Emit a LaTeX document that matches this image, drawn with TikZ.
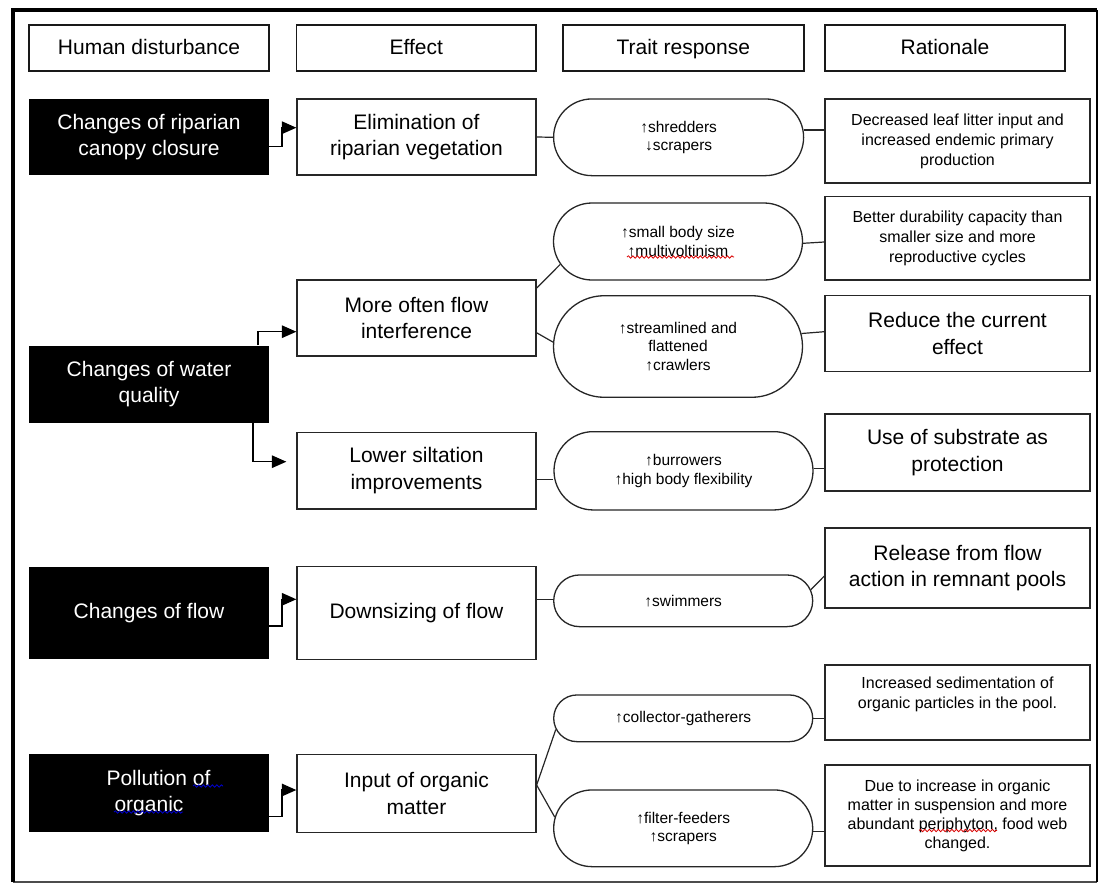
\documentclass[tikz,border=0pt]{standalone}
\usepackage{fontspec}
\setmainfont{Liberation Sans}
\usetikzlibrary{arrows.meta,calc,shapes.misc,decorations.pathmorphing}
\tikzset{
  bigfont/.style={font=\fontsize{21}{26.5}\selectfont},
  hdr/.style={draw=black!90, line width=1.8pt, fill=white, bigfont, text height=15.5pt, text depth=2pt, align=center, inner sep=0pt},
  dist/.style={fill=black, text=white, bigfont, align=center, inner sep=0pt},
  eff/.style={draw=black!85, line width=1.3pt, fill=white, bigfont, align=center, inner sep=0pt},
  trait/.style={rounded rectangle, draw=black!85, line width=1.3pt, fill=white, align=center, inner sep=0pt,
                font=\fontsize{15.5}{18.5}\selectfont},
  rat/.style={draw=black!85, line width=1.3pt, fill=white, align=center, inner sep=0pt,
              font=\fontsize{16}{20}\selectfont},
  ratbig/.style={rat, bigfont},
  link/.style={line width=1.2pt, draw=black!85},
  flag/.style={line width=1.4pt, draw=black, -{Triangle[length=14.5pt,width=12.5pt]}},
  squig/.style={line width=0.8pt, decorate, decoration={snake, segment length=4.5pt, amplitude=1.2pt}},
}
\begin{document}
\begin{tikzpicture}[x=1pt,y=-1pt]
\useasboundingbox (0,0) rectangle (1100,883);
\fill[white] (0,0) rectangle (1100,883);

% outer frame
\draw[line width=2pt, black!70] (13,881.5) -- (1097,881.5);
\draw[line width=2.6pt, black] (1097,10) -- (1097,882);
\draw[line width=3.6pt, black] (13,882) -- (13,10) -- (1097,10);

% headers
\node[hdr, minimum width=240, minimum height=46] (hHD) at (149,48) {Human disturbance};
\node[hdr, minimum width=239.5, minimum height=46] (hEf) at (416.3,48) {Effect};
\node[hdr, minimum width=240.6, minimum height=46] (hTr) at (683.3,48) {Trait response};
\node[hdr, minimum width=240, minimum height=46] (hRa) at (945,48) {Rationale};

% human disturbance
\node[dist, minimum width=240, minimum height=76] (d1) at (149,137) {Changes of riparian\\canopy closure};
\node[dist, minimum width=240, minimum height=77.3] (d2) at (149,384.3) {Changes of water\\quality};
\node[dist, minimum width=240, minimum height=92.6] (d3) at (149,613) {Changes of flow};
\node[dist, minimum width=240, minimum height=78] (d4) at (149,793.3) {\hspace*{19pt}Pollution of\\organic};

% effects
\node[eff, minimum width=239, minimum height=76] (e1) at (416.5,137) {Elimination of\\riparian vegetation};
\node[eff, minimum width=239, minimum height=76] (e2) at (416.5,318) {More often flow\\interference};
\node[eff, minimum width=239, minimum height=76.3] (e3) at (416.5,470.8) {Lower siltation\\improvements};
\node[eff, minimum width=239, minimum height=92.6] (e4) at (416.5,613) {Downsizing of flow};
\node[eff, minimum width=239, minimum height=78] (e5) at (416.5,793.3) {Input of organic\\matter};

% trait responses
\node[trait, minimum width=250, minimum height=76.7] (t1) at (678.6,137.3) {↑shredders\\↓scrapers};
\node[trait, minimum width=249, minimum height=77] (t2) at (678,241.5) {↑small body size\\↑multivoltinism};
\node[trait, minimum width=249, minimum height=101.6] (t3) at (678,346.5) {↑streamlined and\\flattened\\↑crawlers};
\node[trait, minimum width=259, minimum height=78.3] (t4) at (683.5,470.8) {↑burrowers\\↑high body flexibility};
\node[trait, minimum width=259, minimum height=51.7] (t5) at (683.2,600.8) {↑swimmers};
\node[trait, minimum width=259, minimum height=46.7] (t6) at (683.2,718.3) {↑collector-gatherers};
\node[trait, minimum width=259, minimum height=76.7] (t7) at (683.2,828.3) {↑filter-feeders\\↑scrapers};

% rationale
\node[rat, minimum width=265, minimum height=84] (r1) at (957.5,141) {Decreased leaf litter input and\\increased endemic primary\\production};
\node[rat, minimum width=265, minimum height=83.3] (r2) at (957.5,238.3) {Better durability capacity than\\smaller size and more\\reproductive cycles};
\node[ratbig, minimum width=265, minimum height=76] (r3) at (957.5,333.7) {Reduce the current\\effect};
\node[ratbig, minimum width=265, minimum height=77] (r4) at (957.5,452.5) {Use of substrate as\\protection};
\node[ratbig, minimum width=265, minimum height=80] (r5) at (957.5,568) {Release from flow\\action in remnant pools};
\node[rat, minimum width=265, minimum height=75] (r6) at (957.5,702.5) {Increased sedimentation of\\organic particles in the pool.\\\mbox{}};
\node[rat, minimum width=265, minimum height=101, font=\fontsize{16}{19}\selectfont] (r7) at (957.5,815.5) {Due to increase in organic\\matter in suspension and more\\abundant periphyton, food web\\changed.};

% disturbance -> effect connectors
\draw[flag] ($(d1.east)+(0,9.7)$) -| ($(e1.west)+(-14.5,-9.3)$) -- ($(e1.west)+(0,-9.3)$);
\draw[flag] ($(d2.north)+(108.9,0)$) |- ($(e2.west)+(0,13.7)$);
\draw[flag, shorten >=10pt] ($(d2.south)+(103.9,0)$) |- ($(e3.west)+(0,-9.1)$);
\draw[flag] ($(d3.east)+(0,13)$) -| ($(e4.west)+(-14.5,-13.7)$) -- ($(e4.west)+(0,-13.7)$);
\draw[flag] ($(d4.east)+(0,23.4)$) -| ($(e5.west)+(-14.5,-3.3)$) -- ($(e5.west)+(0,-3.3)$);

% effect -> trait connectors
\draw[link] (e1.east) -- (t1.west);
\draw[link] (e2.14) -- (t2.191.5);
\draw[link] (e2.-7.2) -- (t3.178);
\draw[link] ($(e3.east)+(0,8.5)$) -- ($(t4.west)+(0,8.5)$);
\draw[link] ($(e4.east)+(0,-13.7)$) -- ($(t5.west)+(0,-1.5)$);
\coordinate (e5o) at ($(e5.east)+(0,-8.3)$);
\draw[link] (e5o) -- (t6.185);
\draw[link] (e5o) -- (t7.175);

% trait -> rationale connectors
\draw[link] ($(t1.east)+(0,-7.3)$) -- ($(r1.west)+(0,-11)$);
\draw[link] ($(t2.east)+(0,1.8)$) -- ($(r2.west)+(0,3.7)$);
\draw[link] (t3.6.9) -- ($(r3.west)+(0,-2)$);
\draw[link] ($(t4.east)+(0,-2.5)$) -- ($(r4.west)+(0,15.8)$);
\draw[link] (t5.5.8) -- ($(r5.west)+(0,8)$);
\draw[link] (t6.east) -- ($(r6.west)+(0,15.8)$);
\draw[link] ($(t7.east)+(0,3.4)$) -- ($(r7.west)+(0,16.2)$);

% spell-check underlines
\draw[squig, red!85!black] (627,257) -- (734,257);
\draw[squig, red!85!black] (919,830.5) -- (997,830.5);
\draw[squig, blue!80!black] (193,786) -- (223,786);
\draw[squig, blue!80!black] (114,812) -- (183,812);
\end{tikzpicture}
\end{document}
